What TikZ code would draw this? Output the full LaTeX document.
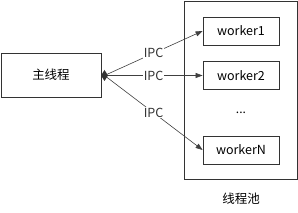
\documentclass[tikz,border=0pt]{standalone}
\usepackage{fontspec}
\setmainfont{Noto Sans CJK SC}
\usetikzlibrary{arrows.meta}
\begin{document}
\begin{tikzpicture}[x=1pt,y=-1pt,
  box/.style={draw=black!80, line width=0.8pt, minimum height=#1, inner sep=0pt},
  wbox/.style={draw=black!80, line width=0.8pt, minimum width=76pt, minimum height=28pt, inner sep=0pt, font=\fontsize{12.5}{14}\selectfont},
  conn/.style={draw=black!75, line width=0.6pt, -{Triangle[length=7pt,width=5pt]}},
  lbl/.style={fill=white, inner sep=1pt, font=\fontsize{12.5}{14}\selectfont, text=black!80}]
\useasboundingbox (0,0) rectangle (298,213);
\node[box=44pt, minimum width=100pt, font=\fontsize{12.5}{14}\selectfont] (main) at (51,75) {主线程};
\node[draw=black!80, line width=0.8pt, minimum width=113pt, minimum height=178pt, inner sep=0pt] (pool) at (240.5,90) {};
\node[wbox] (w1) at (241,31) {worker1};
\node[wbox] (w2) at (241,75.5) {worker2};
\node[font=\fontsize{12}{14}\selectfont] (dots) at (241,113) {...};
\node[wbox] (wn) at (241,150) {workerN};
\node[font=\fontsize{12.5}{14}\selectfont] (lab) at (241,199) {线程池};
\coordinate (src) at (104.5,75.5);
\draw[conn] (src) -- node[lbl]{IPC} (w1.west);
\draw[conn] (src) -- node[lbl]{IPC} (w2.west);
\draw[conn] (src) -- node[lbl]{IPC} (wn.west);
\fill[black!80] ([xshift=-3.5pt]src) -- ([yshift=-5.5pt]src) -- ([xshift=3.5pt]src) -- ([yshift=5.5pt]src) -- cycle;
\end{tikzpicture}
\end{document}
